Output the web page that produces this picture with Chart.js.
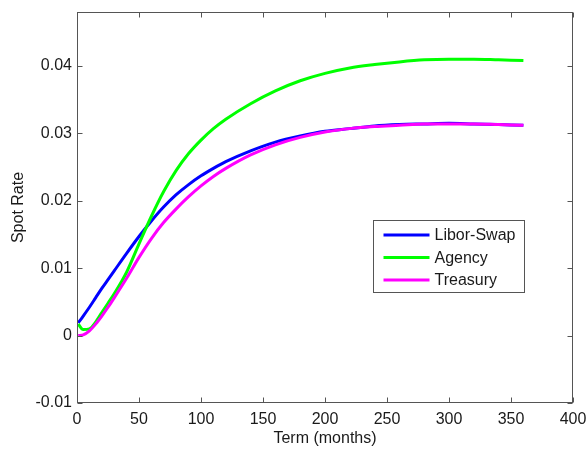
<!DOCTYPE html>
<html>
<head>
<meta charset="utf-8">
<script src="https://cdn.jsdelivr.net/npm/chart.js@4/dist/chart.umd.min.js"></script>
<style>
  html, body { margin: 0; padding: 0; background: #fff; }
  #wrap { width: 588px; height: 451px; }
</style>
</head>
<body>
<div id="wrap"><canvas id="c" width="588" height="451"></canvas></div>
<script>
const terms = [1, 5, 10, 15, 20, 25, 30, 40, 50, 60, 70, 80, 90, 100, 110, 120, 140, 160, 180, 200, 220, 240, 260, 280, 300, 320, 340, 360];
const liborSwap = [0.0019, 0.0029, 0.0042, 0.0056, 0.0070, 0.0083, 0.0096, 0.0122, 0.0147, 0.0170, 0.0191, 0.0209, 0.0224, 0.0237, 0.0248, 0.0258, 0.0274, 0.0287, 0.0296, 0.0303, 0.0307, 0.0311, 0.0313, 0.0314, 0.0315, 0.0314, 0.0313, 0.0312];
const agency = [0.0017, 0.0009, 0.0010, 0.0020, 0.0034, 0.0048, 0.0062, 0.0094, 0.0136, 0.0177, 0.0214, 0.0245, 0.0270, 0.0290, 0.0307, 0.0321, 0.0344, 0.0363, 0.0378, 0.0389, 0.0397, 0.0402, 0.0406, 0.0409, 0.0410, 0.0410, 0.0409, 0.0408];
const treasury = [0.0000, 0.0001, 0.0007, 0.0017, 0.0029, 0.0042, 0.0056, 0.0085, 0.0116, 0.0144, 0.0168, 0.0188, 0.0206, 0.0222, 0.0236, 0.0248, 0.0268, 0.0283, 0.0294, 0.0302, 0.0307, 0.0310, 0.0312, 0.0314, 0.0314, 0.0314, 0.0313, 0.0312];
const seriesNames = ['Libor-Swap', 'Agency', 'Treasury'];
const seriesColors = ['#0000ff', '#00ff00', '#ff00ff'];
const xTitle = 'Term (months)';
const yTitle = 'Spot Rate';

const FONT = 'Liberation Sans, Arial, sans-serif';
const AXIS_COLOR = '#555555';
const TEXT_COLOR = '#1a1a1a';

function toXY(vals) { return terms.map((t, i) => ({ x: t, y: vals[i] })); }
const seriesData = [liborSwap, agency, treasury];

const boxTicks = {
  id: 'boxTicks',
  afterDatasetsDraw(chart) {
    const { ctx, chartArea: a, scales } = chart;
    ctx.save();
    ctx.strokeStyle = AXIS_COLOR;
    ctx.lineWidth = 1;
    const L = Math.round(a.left) + 0.5, R = Math.round(a.right) - 0.5;
    const T = Math.round(a.top) + 0.5, B = Math.round(a.bottom) - 0.5;
    ctx.strokeRect(L, T, R - L, B - T);
    const len = 5;
    ctx.beginPath();
    scales.x.ticks.forEach(tk => {
      const px = Math.round(scales.x.getPixelForValue(tk.value)) + 0.5;
      ctx.moveTo(px, B); ctx.lineTo(px, B - len);
      ctx.moveTo(px, T); ctx.lineTo(px, T + len);
    });
    scales.y.ticks.forEach(tk => {
      const py = Math.round(scales.y.getPixelForValue(tk.value)) + 0.5;
      ctx.moveTo(L, py); ctx.lineTo(L + len, py);
      ctx.moveTo(R, py); ctx.lineTo(R - len, py);
    });
    ctx.stroke();
    ctx.restore();
  },
  afterDraw(chart) {
    const { ctx } = chart;
    ctx.save();
    const bx = 373.5, by = 220.5, bw = 151, bh = 72;
    ctx.fillStyle = '#ffffff';
    ctx.fillRect(bx, by, bw, bh);
    ctx.strokeStyle = AXIS_COLOR;
    ctx.lineWidth = 1;
    ctx.strokeRect(bx, by, bw, bh);
    ctx.font = '16px ' + FONT;
    ctx.textBaseline = 'middle';
    ctx.textAlign = 'left';
    chart.data.datasets.forEach((ds, i) => {
      const y = by + 14.5 + i * 22.5;
      ctx.strokeStyle = ds.borderColor;
      ctx.lineWidth = 3;
      ctx.beginPath();
      ctx.moveTo(bx + 10, y); ctx.lineTo(bx + 56, y);
      ctx.stroke();
      ctx.fillStyle = TEXT_COLOR;
      ctx.fillText(ds.label, bx + 61, y + 1);
    });
    ctx.restore();
  }
};

new Chart(document.getElementById('c'), {
  type: 'line',
  data: {
    datasets: seriesNames.map((name, i) => ({
      label: name,
      data: toXY(seriesData[i]),
      borderColor: seriesColors[i],
      backgroundColor: seriesColors[i],
      borderWidth: 3,
      pointRadius: 0,
      fill: false,
      cubicInterpolationMode: 'monotone',
      order: 3 - i
    }))
  },
  options: {
    responsive: false,
    animation: false,
    devicePixelRatio: 1,
    layout: { padding: { left: 0, top: 12, right: 15, bottom: 0 } },
    plugins: { legend: { display: false }, tooltip: { enabled: false } },
    scales: {
      x: {
        type: 'linear',
        min: 0, max: 400,
        grid: { display: false, drawTicks: false },
        border: { display: false },
        ticks: { stepSize: 50, color: TEXT_COLOR, font: { family: FONT, size: 16 }, padding: 7, maxRotation: 0 },
        title: { display: true, text: xTitle, color: TEXT_COLOR, font: { family: FONT, size: 16, lineHeight: 1.2 }, padding: { top: 0, bottom: 3 } },
        afterFit(scale) { scale.height = 48; scale.paddingLeft = 0; scale.paddingRight = 0; }
      },
      y: {
        type: 'linear',
        min: -0.01, max: 0.048,
        grid: { display: false, drawTicks: false },
        border: { display: false },
        ticks: {
          stepSize: 0.01, includeBounds: false, color: TEXT_COLOR, font: { family: FONT, size: 16 }, padding: 5,
          callback: v => Math.abs(v) < 1e-9 ? '0' : String(+v.toFixed(3))
        },
        title: { display: true, text: yTitle, color: TEXT_COLOR, font: { family: FONT, size: 16, lineHeight: 1.2 }, padding: { top: 9, bottom: 0 } },
        afterFit(scale) { scale.width = 77; scale.paddingTop = 0; scale.paddingBottom = 0; }
      }
    }
  },
  plugins: [boxTicks]
});
</script>
</body>
</html>
